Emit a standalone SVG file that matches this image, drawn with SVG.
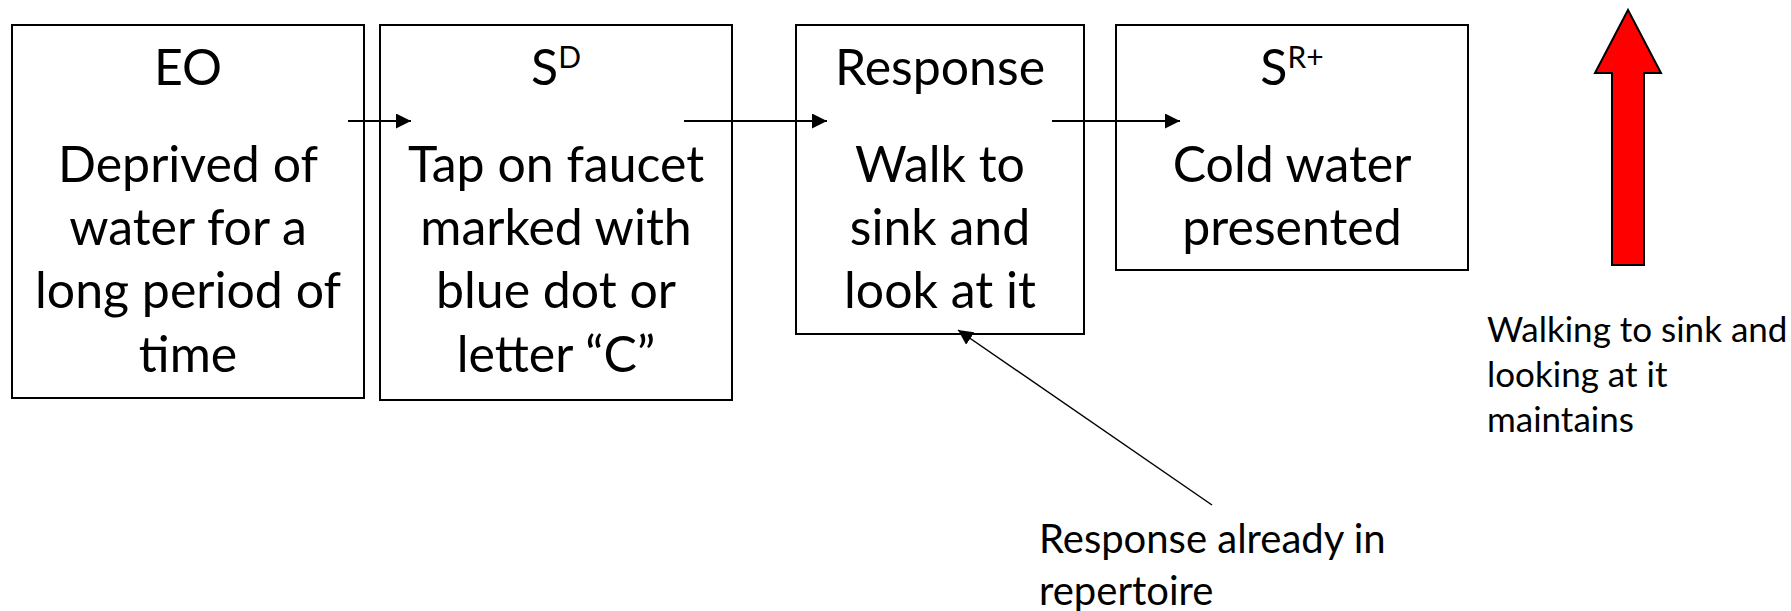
<svg xmlns="http://www.w3.org/2000/svg" width="1791" height="611" viewBox="0 0 1791 611">
  <style>
    .box { fill: #ffffff; stroke: #000000; stroke-width: 2; }
    .big { font-family: Lato, "Open Sans", "Liberation Sans", sans-serif; font-size: 50px; fill: #000000; text-anchor: middle; }
    .sup { font-size: 30px; }
    .note { font-family: Lato, "Open Sans", "Liberation Sans", sans-serif; font-size: 35px; fill: #000000; }
    .note-lg { font-size: 40px; }
    .link { fill: none; stroke: #000000; stroke-width: 2; }
    .thin { fill: none; stroke: #000000; stroke-width: 1.5; }
  </style>
  <defs>
    <marker id="head" viewBox="0 0 15 15" refX="15" refY="7.5" markerWidth="15" markerHeight="15" markerUnits="userSpaceOnUse" orient="auto">
      <path d="M0,0 L15,7.5 L0,15 Z" fill="#000000"/>
    </marker>
  </defs>

  <rect width="1791" height="611" fill="#ffffff"/>

  <!-- three-term contingency boxes -->
  <g id="node-eo">
    <rect class="box" x="12" y="25" width="352" height="373"/>
    <text class="big" x="188" y="85">EO</text>
    <text class="big" x="188" y="182">Deprived of</text>
    <text class="big" x="188" y="245">water for a</text>
    <text class="big" x="188" y="308">long period of</text>
    <text class="big" x="188" y="372">time</text>
  </g>

  <g id="node-sd">
    <rect class="box" x="380" y="25" width="352" height="375"/>
    <text class="big" x="556" y="85">S<tspan class="sup" dy="-17">D</tspan></text>
    <text class="big" x="556" y="182">Tap on faucet</text>
    <text class="big" x="556" y="245">marked with</text>
    <text class="big" x="556" y="308">blue dot or</text>
    <text class="big" x="556" y="372">letter “C”</text>
  </g>

  <g id="node-response">
    <rect class="box" x="796" y="25" width="288" height="309"/>
    <text class="big" x="940" y="85">Response</text>
    <text class="big" x="940" y="182">Walk to</text>
    <text class="big" x="940" y="245">sink and</text>
    <text class="big" x="940" y="308">look at it</text>
  </g>

  <g id="node-sr">
    <rect class="box" x="1116" y="25" width="352" height="245"/>
    <text class="big" x="1292" y="85">S<tspan class="sup" dy="-17">R+</tspan></text>
    <text class="big" x="1292" y="182">Cold water</text>
    <text class="big" x="1292" y="245">presented</text>
  </g>

  <!-- connectors -->
  <g id="connectors">
    <line class="link" x1="348" y1="121" x2="411" y2="121" marker-end="url(#head)"/>
    <line class="link" x1="684" y1="121" x2="827" y2="121" marker-end="url(#head)"/>
    <line class="link" x1="1052" y1="121" x2="1180" y2="121" marker-end="url(#head)"/>
    <line class="thin" x1="1212" y1="505" x2="958" y2="330" marker-end="url(#head)"/>
  </g>

  <!-- upward block arrow -->
  <g id="node-maintain-arrow">
    <path d="M1628,10 L1661,73 L1644,73 L1644,265 L1612,265 L1612,73 L1595,73 Z" fill="#ff0000" stroke="#000000" stroke-width="2" stroke-linejoin="miter"/>
  </g>

  <g id="label-maintains">
    <text class="note" x="1487" y="342">Walking to sink and</text>
    <text class="note" x="1487" y="387">looking at it</text>
    <text class="note" x="1487" y="432">maintains</text>
  </g>

  <g id="label-repertoire">
    <text class="note note-lg" x="1039" y="553">Response already in</text>
    <text class="note note-lg" x="1039" y="605">repertoire</text>
  </g>
</svg>
